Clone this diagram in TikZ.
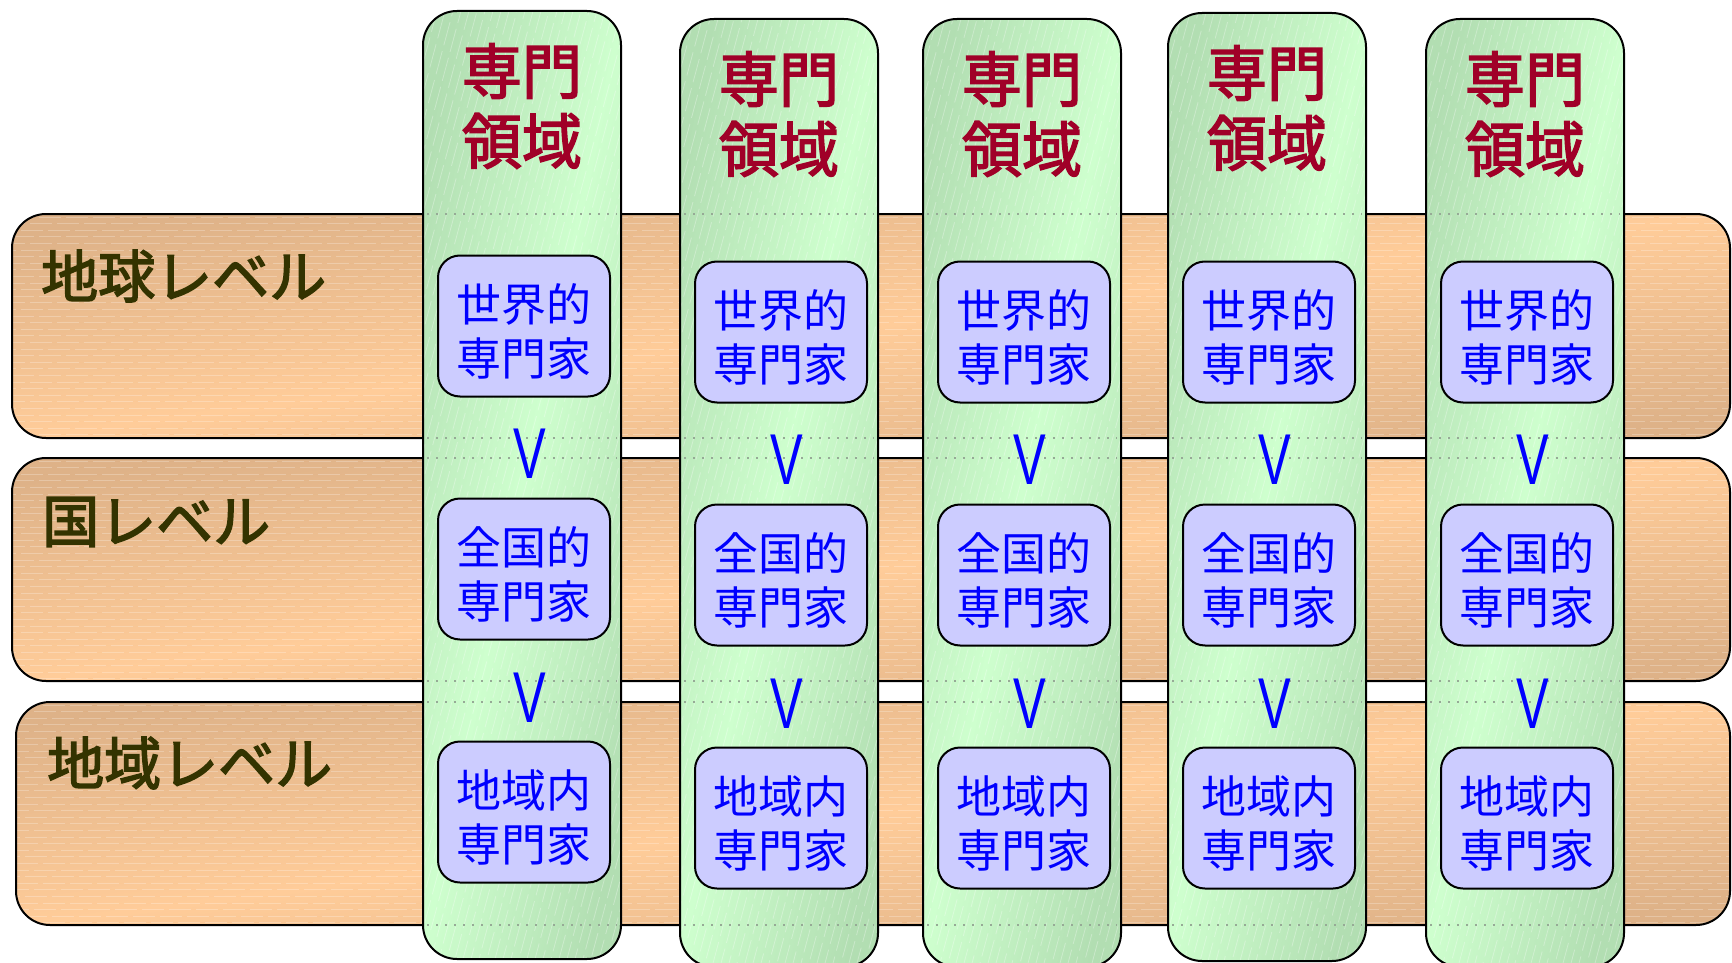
\documentclass[tikz,border=0pt]{standalone}
\usepackage{fontspec}
\usepackage{graphicx}
\newfontfamily\jpfont{Noto Sans CJK JP}
\newfontfamily\jpheavy{Noto Sans CJK JP}[FakeBold=2.6]
\newfontfamily\vfont{Liberation Sans}
\definecolor{bandlight}{RGB}{255,204,153}
\definecolor{banddark}{RGB}{222,178,136}
\definecolor{collight}{RGB}{206,255,206}
\definecolor{coldark}{RGB}{178,222,178}
\definecolor{boxfill}{RGB}{204,204,255}
\definecolor{headred}{RGB}{160,0,40}
\definecolor{labelolive}{RGB}{51,51,0}
\definecolor{textblue}{RGB}{0,0,255}
\definecolor{dotgray}{RGB}{150,170,150}
\begin{document}
\begin{tikzpicture}[x=1pt,y=-1pt,
 bandfill/.style={rounded corners=34pt,top color=banddark,bottom color=banddark,middle color=bandlight,shading angle=7.5},
 colfill/.style={rounded corners=34pt,top color=coldark,bottom color=coldark,middle color=collight,shading angle=78},
 outline/.style={draw=black,line width=2pt,rounded corners=34pt},
 bandtex/.style={draw=white,opacity=0.25,line width=0.8pt,dash pattern=on 22pt off 5pt},
 coltex/.style={draw=white,opacity=0.3,line width=0.8pt,dash pattern=on 24pt off 6pt},
 edgedots/.style={draw=dotgray,line width=1.5pt,dash pattern=on 1.5pt off 7.5pt},
 expertbox/.style={draw=black,line width=2pt,fill=boxfill,rounded corners=22pt,minimum width=172pt,minimum height=141pt,inner sep=0pt},
 experttext/.style={align=center,inner sep=0pt,text=textblue,font=\jpfont\fontsize{45}{54}\selectfont},
 header/.style={align=center,text=headred,inner sep=0pt,font=\jpheavy\fontsize{60}{70}\selectfont},
 level/.style={anchor=west,inner sep=0pt,text=labelolive,font=\jpheavy\fontsize{57}{60}\selectfont},
 gt/.style={inner sep=0pt,text=textblue,font=\vfont\fontsize{72}{72}\selectfont}]
\clip (0,0) rectangle (1732,963);
% level bands
\foreach \bx/\by/\bb in {12/214/438, 12/458/681, 16/702/925} {
  \path[bandfill] (\bx,\by) rectangle (1730,\bb);
  \begin{scope}
    \clip[rounded corners=34pt] (\bx,\by) rectangle (1730,\bb);
    \foreach \k in {0,...,33}
      \draw[bandtex, dash phase=\k*9pt] (\bx,\by+3+\k*6.6) -- (1730,\by+3+\k*6.6);
  \end{scope}
  \draw[outline] (\bx,\by) rectangle (1730,\bb);
}
\node[level] (lv1) at (41,276) {地球レベル};
\node[level] (lv2) at (42,522) {国レベル};
\node[level] (lv3) at (47,763) {地域レベル};
% columns
\foreach \i/\L/\T/\b in {1/423/11/326, 2/680/19/332, 3/923/19/332, 4/1168/13/332, 5/1426/19/332} {
  \path[colfill] (\L,\T) rectangle (\L+198,\T+948);
  \begin{scope}
    \clip[rounded corners=34pt] (\L,\T) rectangle (\L+198,\T+948);
    \foreach \k in {-34,...,26}
      \draw[coltex, dash phase=\k*7pt] (\L+\k*8,\T+948) -- (\L+\k*8+254,\T);
  \end{scope}
  \foreach \yy in {214,438,458,681,702,925}
    \draw[edgedots] (\L+4,\yy) -- (\L+194,\yy);
  \draw[outline] (\L,\T) rectangle (\L+198,\T+948);
  \node[header] (head\i) at (\L+99,\T+95) {専門\\領域};
  \node[expertbox] (world\i) at (\L+101,\b) {};
  \node[experttext] (worldtxt\i) at (\L+101,\b+5) {世界的\\専門家};
  \node[expertbox] (nation\i) at (\L+101,\b+243) {};
  \node[experttext] (nationtxt\i) at (\L+101,\b+248) {全国的\\専門家};
  \node[expertbox] (local\i) at (\L+101,\b+486) {};
  \node[experttext] (localtxt\i) at (\L+101,\b+491) {地域内\\専門家};
  \node[gt] (gta\i) at (\L+107,\b+128) {\scalebox{0.68}[1]{V}};
  \node[gt] (gtb\i) at (\L+107,\b+372) {\scalebox{0.68}[1]{V}};
}
\end{tikzpicture}
\end{document}
